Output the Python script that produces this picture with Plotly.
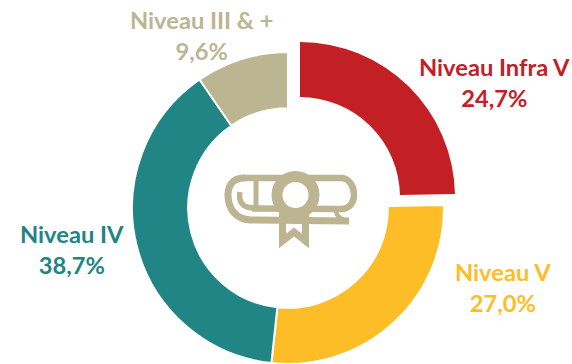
import plotly.graph_objects as go

W, H = 572, 364
categories = ["Niveau Infra V", "Niveau V", "Niveau IV", "Niveau III & +"]
shares = [24.7, 27.0, 38.7, 9.6]
colors = ["#C32026", "#FDBD26", "#208584", "#BBB592"]
share_text = ["24,7%", "27,0%", "38,7%", "9,6%"]
ICON = "#BDB592"


def dom(cx, cy, r):
    return dict(x=[(cx - r) / W, (cx + r) / W], y=[1 - (cy + r) / H, 1 - (cy - r) / H])


def common(line_w, hole):
    return dict(
        labels=categories, values=shares, sort=False, direction="clockwise", rotation=0,
        hole=hole, textinfo="none", showlegend=False, hoverinfo="skip",
        marker=dict(line=dict(color="white", width=line_w)),
    )


fig = go.Figure()
main = common(2, 0.64)
main["marker"]["colors"] = ["rgba(0,0,0,0)"] + colors[1:]
main["marker"]["line"]["color"] = ["rgba(0,0,0,0)", "white", "white", "white"]
fig.add_trace(go.Pie(domain=dom(288, 208, 156), **main))
pulled = common(0, 0.645)
pulled["marker"]["colors"] = [colors[0]] + ["rgba(0,0,0,0)"] * 3
fig.add_trace(go.Pie(domain=dom(300, 197, 155), **pulled))

label_pos = [(494, 83), (503, 287), (72, 249), (201, 35)]
annotations = []
for name, txt, col, (x, y) in zip(categories, share_text, colors, label_pos):
    annotations.append(dict(
        x=x / W, y=1 - y / H, xref="paper", yref="paper", showarrow=False,
        text=f"{name}<br>{txt}", align="center", xanchor="center", yanchor="middle",
        font=dict(family="Lato", size=23.7, color=col, weight=700),
    ))


def P(x, y):
    return f"{x / W:.5f},{1 - y / H:.5f}"


def path(cmds):
    return " ".join(c if isinstance(c, str) else P(*c) for c in cmds)


def stroke(cmds, w=6.5):
    return dict(type="path", xref="paper", yref="paper", path=path(cmds),
                line=dict(color=ICON, width=w), layer="above")


shapes = [
    # top edge, right roll, inner line
    stroke(["M", (243, 178), "L", (342, 178), "C", (350, 179), (354, 187), (354, 195),
            "C", (354, 203), (349, 209), (341, 209), "L", (252, 208.5)]),
    # outer left spiral and bottom line
    stroke(["M", (245, 178), "C", (233, 177), (228, 186), (228, 195), "C", (228, 209), (236, 219), (250, 220),
            "L", (349, 221)], 7),
    # inner spiral
    stroke(["M", (240, 192), "C", (238, 202), (243, 208), (254, 208)], 5.5),
    # left edge of sheet
    stroke(["M", (256, 178), "L", (256, 207)], 5),
    # right foot
    stroke(["M", (336, 211), "Q", (337, 219), (348, 221)], 4.5),
    # ribbon
    stroke(["M", (282.5, 212), "L", (282.5, 241), "L", (294, 232), "L", (305.5, 241), "L", (305.5, 212)], 7),
    # rosette
    dict(type="circle", xref="paper", yref="paper",
         x0=277 / W, x1=314 / W, y0=1 - 213.5 / H, y1=1 - 176.5 / H,
         fillcolor="white", line=dict(color=ICON, width=11), layer="above"),
]

fig.update_layout(
    width=W, height=H, margin=dict(l=0, r=0, t=0, b=0),
    paper_bgcolor="white", annotations=annotations, shapes=shapes,
)
fig.write_html("out.html", config={"displayModeBar": False},
               post_script="document.body.style.margin='0';document.documentElement.style.overflow='hidden';")
